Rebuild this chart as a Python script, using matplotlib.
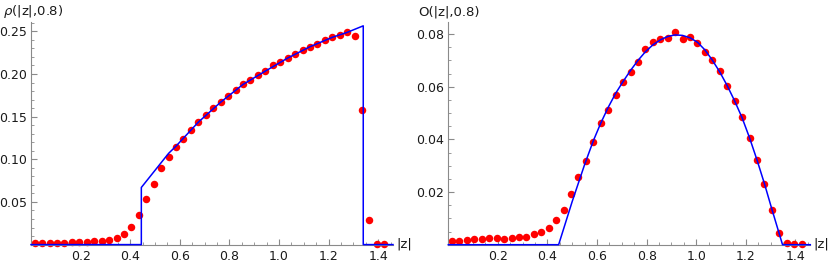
import numpy as np
import matplotlib
matplotlib.use("Agg")
import matplotlib.pyplot as plt
from matplotlib.ticker import MultipleLocator, FixedLocator

# ---- data ----
z_points = [0.015 + 0.03 * k for k in range(48)]

rho_points = [0.0019, 0.0023, 0.0023, 0.0023, 0.0023, 0.0027, 0.0031, 0.0031,
              0.0039, 0.0047, 0.0059, 0.0082, 0.0125, 0.021, 0.035, 0.0535,
              0.071, 0.090, 0.103, 0.115, 0.124,
              0.1346, 0.1436, 0.1518, 0.160, 0.167, 0.174, 0.181, 0.1878,
              0.1933, 0.1984, 0.2034, 0.210, 0.2144, 0.2187, 0.2238, 0.2277,
              0.232, 0.2352, 0.2394, 0.243, 0.2457, 0.2488, 0.2449,
              0.1584, 0.0292, 0.001, 0.0009]

O_points = [0.0013, 0.0015, 0.0018, 0.0020, 0.0023, 0.0024, 0.0025, 0.0023,
            0.0024, 0.0030, 0.0029, 0.0039, 0.0047, 0.0063, 0.0093, 0.0133,
            0.0191, 0.0258, 0.0318, 0.0391,
            0.0461, 0.0513, 0.0567, 0.0617, 0.0656, 0.0693, 0.0743, 0.0771,
            0.0780, 0.0786, 0.0807, 0.0782, 0.0789, 0.0767, 0.0733, 0.0701,
            0.0660, 0.0603, 0.0547, 0.0484,
            0.0406, 0.0323, 0.0231, 0.0133, 0.0046, 0.0006, 0.0003, 0.0003]

rho_curve_z = [0.0, 0.445, 0.445, 0.555, 0.585, 0.675, 0.765, 0.855, 0.945,
               1.035, 1.125, 1.215, 1.275, 1.34, 1.34, 1.46]
rho_curve_v = [0.0, 0.0, 0.067, 0.107, 0.1155, 0.1436, 0.167, 0.1878, 0.2034,
               0.2187, 0.232, 0.243, 0.2488, 0.2565, 0.0, 0.0]

O_curve_z = [0.0, 0.445, 0.5, 0.55, 0.585, 0.615, 0.645, 0.675, 0.705, 0.735,
             0.765, 0.795, 0.825, 0.855, 0.885, 0.915, 0.945, 0.975, 1.005,
             1.035, 1.065, 1.095, 1.125, 1.155, 1.185, 1.215, 1.245, 1.275,
             1.305, 1.348, 1.46]
O_curve_v = [0.0, 0.0, 0.0165, 0.0305, 0.0395, 0.0462, 0.0522, 0.0575, 0.0620,
             0.0662, 0.0700, 0.0733, 0.0759, 0.0778, 0.0791, 0.0797, 0.0795,
             0.0786, 0.0769, 0.0740, 0.0701, 0.0656, 0.0604, 0.0546, 0.0482,
             0.0406, 0.0322, 0.0232, 0.0135, 0.0, 0.0]

x_ticks = [0.2, 0.4, 0.6, 0.8, 1.0, 1.2, 1.4]
rho_ticks = [0.05, 0.10, 0.15, 0.20, 0.25]
O_ticks = [0.02, 0.04, 0.06, 0.08]

# ---- figure ----
W, H = 830, 264
fig = plt.figure(figsize=(W / 100, H / 100), dpi=100)

axis_col = "#8a8a8a"
text_col = "#1a1a1a"


def make_ax(left_px, top_px, right_px, bottom_px):
    return fig.add_axes([left_px / W, (H - bottom_px) / H,
                         (right_px - left_px) / W, (bottom_px - top_px) / H])


def style(ax, ymax, yticks, yminor, yfmt):
    ax.set_xlim(0, 1.46)
    ax.set_ylim(0, ymax)
    for s in ["top", "right"]:
        ax.spines[s].set_visible(False)
    for s in ["left", "bottom"]:
        ax.spines[s].set_color(axis_col)
        ax.spines[s].set_linewidth(0.8)
    ax.xaxis.set_major_locator(FixedLocator(x_ticks))
    ax.xaxis.set_minor_locator(MultipleLocator(0.05))
    ax.yaxis.set_major_locator(FixedLocator(yticks))
    ax.yaxis.set_minor_locator(MultipleLocator(yminor))
    ax.set_xticklabels([f"{t:.1f}" for t in x_ticks])
    ax.set_yticklabels([yfmt.format(t) for t in yticks])
    ax.tick_params(which="both", direction="in", color=axis_col,
                   labelcolor=text_col, labelsize=9)
    ax.tick_params(which="major", length=4, width=0.8)
    ax.tick_params(axis="x", which="major", pad=4)
    ax.tick_params(axis="y", which="major", pad=3)
    ax.tick_params(which="minor", length=2.2, width=0.6)
    ax.set_facecolor("none")


axL = make_ax(31, 22, 393, 244.6)
axL.plot(z_points, rho_points, "o", color="#ff0000", markersize=5.4,
         markeredgewidth=0, clip_on=False, zorder=2)
axL.plot(rho_curve_z, rho_curve_v, color="#0000ff", lw=1.1, clip_on=False, zorder=3)
style(axL, 0.261, rho_ticks, 0.01, "{:.2f}")

axR = make_ax(448.3, 22, 810.3, 244.7)
axR.plot(z_points, O_points, "o", color="#ff0000", markersize=5.4,
         markeredgewidth=0, clip_on=False, zorder=2)
axR.plot(O_curve_z, O_curve_v, color="#0000ff", lw=1.1, clip_on=False, zorder=3)
style(axR, 0.0846, O_ticks, 0.005, "{:.2f}")

fig.text(3 / W, 1 - 12 / H, "$\\rho$(|z|,0.8)", fontsize=9.5, color=text_col,
         ha="left", va="center")
fig.text(418 / W, 1 - 12 / H, "O(|z|,0.8)", fontsize=9.5, color=text_col,
         ha="left", va="center")
fig.text(396 / W, 1 - 244 / H, "|z|", fontsize=9.5, color=text_col,
         ha="left", va="center")
fig.text(813 / W, 1 - 244 / H, "|z|", fontsize=9.5, color=text_col,
         ha="left", va="center")

fig.savefig("out.png", dpi=100)
